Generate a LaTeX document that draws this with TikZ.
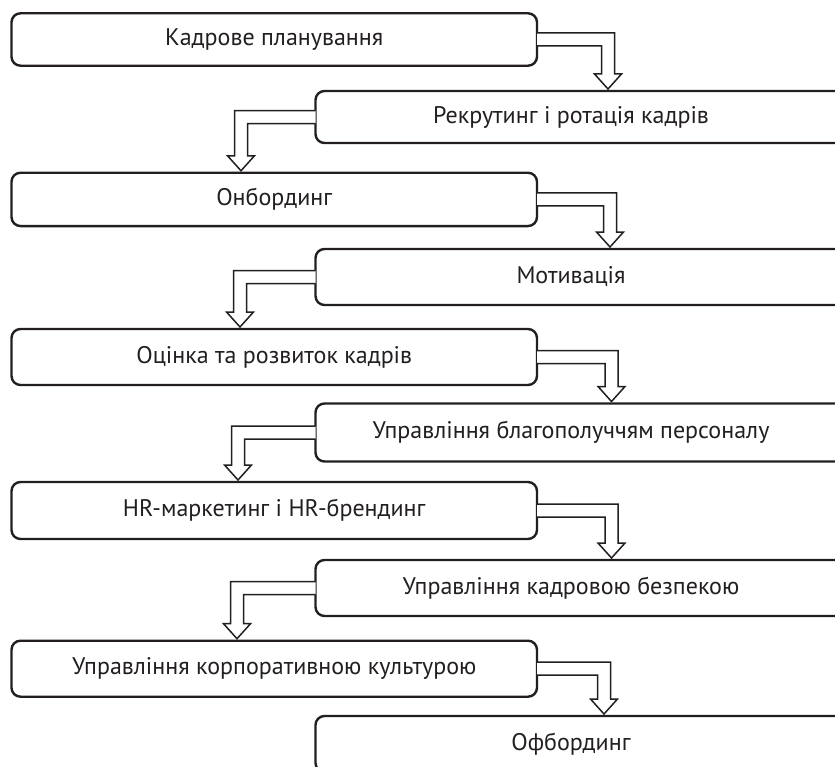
\documentclass[tikz,border=0pt]{standalone}
\usepackage{fontspec}
\setmainfont{PT Sans}
\usetikzlibrary{calc}
\definecolor{ink}{HTML}{231F20}
\newcommand\rarr[3]{%
  \draw[harrow] ($(#1.east)+(0,-6.5)$) -- ($(#1.east -| #3)+(6.5,-6.5)$)
    -- ($(#2.north -| #3)+(6.5,-17)$) -- ($(#2.north -| #3)+(13.5,-17)$)
    -- ($(#2.north -| #3)+(0,-2)$) -- ($(#2.north -| #3)+(-13.5,-17)$)
    -- ($(#2.north -| #3)+(-6.5,-17)$) -- ($(#1.east -| #3)+(-6.5,6.5)$)
    -- ($(#1.east)+(0,6.5)$);}
\newcommand\larr[3]{%
  \draw[harrow] ($(#1.west)+(0,-6.5)$) -- ($(#1.west -| #3)+(-6.5,-6.5)$)
    -- ($(#2.north -| #3)+(-6.5,-17)$) -- ($(#2.north -| #3)+(-13.5,-17)$)
    -- ($(#2.north -| #3)+(0,-2)$) -- ($(#2.north -| #3)+(13.5,-17)$)
    -- ($(#2.north -| #3)+(6.5,-17)$) -- ($(#1.west -| #3)+(6.5,6.5)$)
    -- ($(#1.west)+(0,6.5)$);}
\begin{document}
\begin{tikzpicture}[x=1bp,y=-1bp,
  boxbase/.style={draw=ink, line width=2.4bp, rounded corners=9bp, inner sep=0pt, outer sep=0pt, fill=white},
  lbox/.style={boxbase, minimum width=525.5bp},
  rbox/.style={boxbase, minimum width=564.5bp},
  lbl/.style={text=ink, font=\fontsize{24bp}{28bp}\selectfont, inner sep=0pt},
  harrow/.style={draw=ink, line width=1.5bp, fill=white, line join=miter}]
\useasboundingbox (0,0) rectangle (835,767);
\clip (0,0) rectangle (835,767);
% left boxes: x 11.5 .. 537 ; right boxes: x 315.5 .. 880
\node[lbox, minimum height=52.4bp, label={[lbl]center:Кадрове планування}] (b1) at (274.25,39.5) {};
\node[rbox, minimum height=52bp, label={[lbl,xshift=-26.75bp]center:Рекрутинг і ротація кадрів}] (b2) at (597.75,117) {};
\node[lbox, minimum height=53.3bp, label={[lbl]center:Онбординг}] (b3) at (274.25,199.4) {};
\node[rbox, minimum height=56bp, label={[lbl,xshift=-26.75bp]center:Мотивація}] (b4) at (597.75,277) {};
\node[lbox, minimum height=56bp, label={[lbl]center:Оцінка та розвиток кадрів}] (b5) at (274.25,357) {};
\node[rbox, minimum height=58bp, label={[lbl,xshift=-26.75bp]center:Управління благополуччям персоналу}] (b6) at (597.75,432.5) {};
\node[lbox, minimum height=57bp, label={[lbl]center:HR-маркетинг і HR-брендинг}] (b7) at (274.25,510.5) {};
\node[rbox, minimum height=56bp, label={[lbl,xshift=-26.75bp]center:Управління кадровою безпекою}] (b8) at (597.75,588) {};
\node[lbox, minimum height=56bp, label={[lbl]center:Управління корпоративною культурою}] (b9) at (274.25,668.7) {};
\node[rbox, minimum height=56bp, label={[lbl,xshift=-26.75bp]center:Офбординг}] (b10) at (597.75,744) {};
% arrow columns
\coordinate (r1) at (608,0);
\coordinate (r3) at (610,0);
\coordinate (r5) at (611.5,0);
\coordinate (r7) at (611.5,0);
\coordinate (r9) at (604,0);
\coordinate (l2) at (241,0);
\coordinate (l4) at (240,0);
\coordinate (l6) at (238,0);
\coordinate (l8) at (237,0);
\rarr{b1}{b2}{r1}
\larr{b2}{b3}{l2}
\rarr{b3}{b4}{r3}
\larr{b4}{b5}{l4}
\rarr{b5}{b6}{r5}
\larr{b6}{b7}{l6}
\rarr{b7}{b8}{r7}
\larr{b8}{b9}{l8}
\rarr{b9}{b10}{r9}
\end{tikzpicture}
\end{document}
